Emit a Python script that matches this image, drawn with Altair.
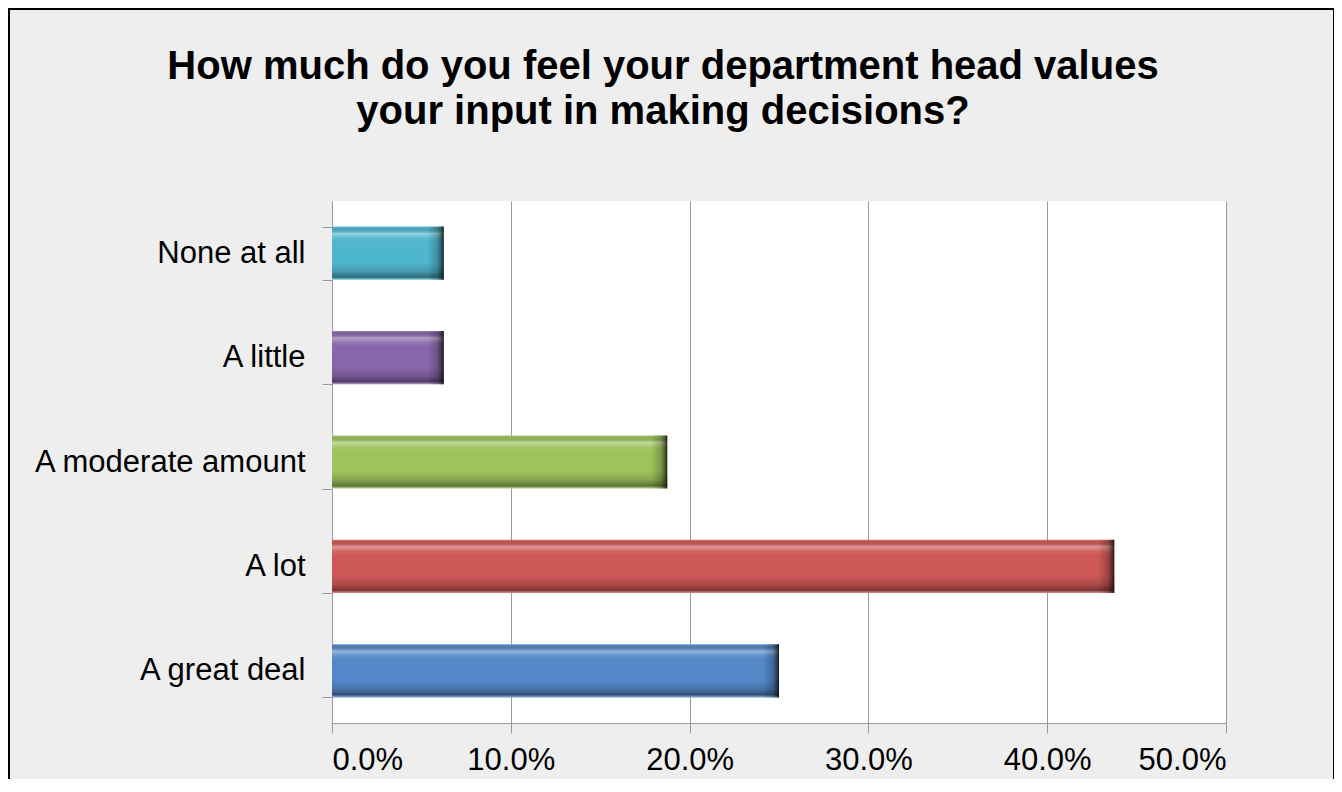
import altair as alt
import pandas as pd

categories = ["None at all", "A little", "A moderate amount", "A lot", "A great deal"]
values = [0.0625, 0.0625, 0.1875, 0.4375, 0.25]
colors = ["#4FB6CF", "#8767AB", "#9EC25C", "#CD5856", "#5588C8"]
x_ticks = [0.0, 0.1, 0.2, 0.3, 0.4, 0.5]
title_lines = ["How much do you feel your department head values",
               "your input in making decisions?"]

df = pd.DataFrame({"response": categories, "share": values})

FONT = "Liberation Sans"
GRAY = "#9A9A9A"

y_enc = alt.Y(
    "response:N",
    sort=categories,
    scale=alt.Scale(paddingInner=0.49, paddingOuter=0.245),
    axis=alt.Axis(title=None, tickBand="extent", labelFontSize=31, labelFont=FONT,
                  labelColor="#000000", labelPadding=17, tickSize=10, tickColor=GRAY,
                  domainColor=GRAY, grid=False, labelLimit=500),
)

x_axis = alt.Axis(values=x_ticks, format=".1%", title=None, grid=True, gridColor=GRAY,
                  labelFontSize=31, labelFont=FONT, labelColor="#000000", tickSize=10,
                  tickColor=GRAY, domainColor=GRAY, labelPadding=12)
x_scale = alt.Scale(domain=[0, 0.5])

base = alt.Chart(df)

bars = base.mark_bar().encode(
    x=alt.X("share:Q", scale=x_scale, axis=x_axis),
    y=y_enc,
    color=alt.Color("response:N", scale=alt.Scale(domain=categories, range=colors), legend=None),
)

shade = base.mark_bar(
    fill=alt.Gradient(
        gradient="linear", x1=0, y1=0, x2=0, y2=1,
        stops=[
            alt.GradientStop(offset=0.0, color="rgba(255,255,255,0.25)"),
            alt.GradientStop(offset=0.04, color="rgba(0,0,0,0.08)"),
            alt.GradientStop(offset=0.13, color="rgba(255,255,255,0.38)"),
            alt.GradientStop(offset=0.22, color="rgba(255,255,255,0.08)"),
            alt.GradientStop(offset=0.3, color="rgba(255,255,255,0)"),
            alt.GradientStop(offset=0.68, color="rgba(0,0,0,0)"),
            alt.GradientStop(offset=0.84, color="rgba(0,0,0,0.15)"),
            alt.GradientStop(offset=0.95, color="rgba(0,0,0,0.42)"),
            alt.GradientStop(offset=1.0, color="rgba(255,255,255,0.3)"),
        ],
    )
).encode(
    x=alt.X("share:Q", scale=x_scale, axis=x_axis),
    y=y_enc,
)

endcap = base.transform_calculate(x0="datum.share - 0.009").mark_bar(
    fill=alt.Gradient(
        gradient="linear", x1=0, y1=0, x2=1, y2=0,
        stops=[
            alt.GradientStop(offset=0.0, color="rgba(0,0,0,0)"),
            alt.GradientStop(offset=0.6, color="rgba(0,0,0,0.22)"),
            alt.GradientStop(offset=0.88, color="rgba(0,0,0,0.55)"),
            alt.GradientStop(offset=1.0, color="rgba(0,0,0,0.85)"),
        ],
    )
).encode(
    x=alt.X("x0:Q", scale=x_scale, axis=x_axis),
    x2="share:Q",
    y=y_enc,
)

frame = alt.Chart(pd.DataFrame({"k": [0]})).mark_rect(
    fillOpacity=0, stroke="#000000", strokeWidth=2
).encode(
    x=alt.value(-323), x2=alt.value(1002), y=alt.value(-192), y2=alt.value(600)
)

chart = alt.layer(bars, shade, endcap, frame).properties(
    width=894,
    height=522,
    padding={"left": 324, "top": 193, "right": 108, "bottom": 56},
    autosize=alt.AutoSizeParams(type="none"),
    background="#EEEEEE",
    title=alt.TitleParams(
        text=title_lines, fontSize=40, font=FONT, fontWeight="bold", color="#000000",
        anchor="middle", dx=-116, offset=-124, lineHeight=45,
    ),
).configure_view(fill="#FFFFFF", stroke=None)

chart.save("out.html", embed_options={"renderer": "svg", "actions": False})
